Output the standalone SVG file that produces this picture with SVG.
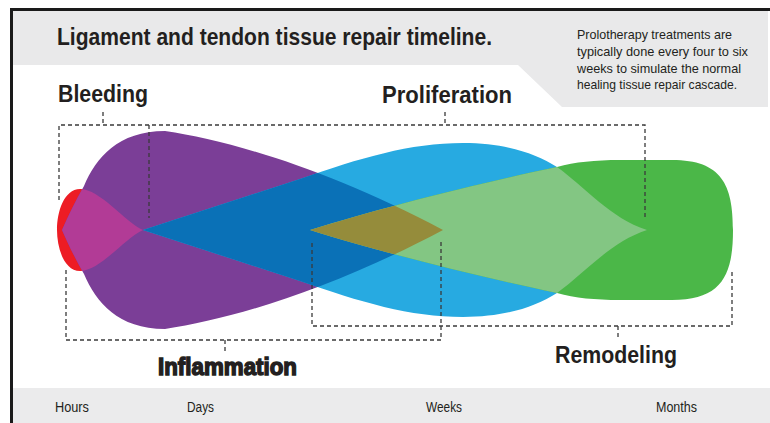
<svg xmlns="http://www.w3.org/2000/svg" width="770" height="423" viewBox="0 0 770 423">
<style>
.t{font-family:"Liberation Sans",Arial,sans-serif;fill:#231f20}
.b{font-weight:bold}
.d{fill:none;stroke:#3a3a3a;stroke-width:1.3;stroke-dasharray:4 3}
</style>
<defs>
<path id="red" d="M143,230 C125,222 100,189 80,189 C64,189 57,212 57,230 C57,248 64,271 80,271 C100,271 125,238 143,230 Z"/>
<path id="purple" d="M62,230 C68,216 76,200 84,186 C96,158 118,131 165,131 C232,141 330,170 443,230 C330,290 232,319 165,329 C118,329 96,302 84,274 C76,260 68,244 62,230 Z"/>
<path id="blue" d="M143,230 L300,179 C360,158 410,143 463,143 C505,143 535,153 557,167 C585,187 610,218 647,230 C610,242 585,273 557,293 C535,307 505,317 463,317 C410,317 360,302 300,281 Z"/>
<path id="green" d="M310,230 C380,208 480,183 557,167 C575,162 595,160 620,160 L672,160 C722,160 733,185 733,230 C733,275 722,300 672,300 L620,300 C595,300 575,298 557,293 C480,277 380,252 310,230 Z"/>
<clipPath id="cPurple"><use href="#purple"/></clipPath>
<clipPath id="cBlue"><use href="#blue"/></clipPath>
</defs>

<g id="frame">
<path d="M13,11 H768 V107 H562 L518,65 H13 Z" fill="#e9e9ea"/>
<rect x="13" y="388" width="757" height="35" fill="#ebebec"/>
<rect x="10" y="8" width="760" height="3" fill="#1a1a1a"/>
<rect x="10" y="8" width="3" height="415" fill="#1a1a1a"/>
</g>

<g id="title">
<text class="t b" x="57" y="45" font-size="24" textLength="435" lengthAdjust="spacingAndGlyphs">Ligament and tendon tissue repair timeline.</text>
</g>

<g id="note" class="t" font-size="13">
<text x="577" y="39" textLength="155" lengthAdjust="spacingAndGlyphs">Prolotherapy treatments are</text>
<text x="577" y="56" textLength="171" lengthAdjust="spacingAndGlyphs">typically done every four to six</text>
<text x="577" y="72.5" textLength="164" lengthAdjust="spacingAndGlyphs">weeks to simulate the normal</text>
<text x="577" y="89" textLength="160" lengthAdjust="spacingAndGlyphs">healing tissue repair cascade.</text>
</g>

<g id="shapes">
<use href="#red" fill="#ed1c24"/>
<use href="#purple" fill="#7b3e97"/>
<use href="#blue" fill="#27aae1"/>
<use href="#green" fill="#4bb748"/>
<use href="#red" fill="#b23b96" clip-path="url(#cPurple)"/>
<use href="#blue" fill="#0a71b7" clip-path="url(#cPurple)"/>
<use href="#green" fill="#83c683" clip-path="url(#cBlue)"/>
<use href="#green" fill="#958c3b" clip-path="url(#cPurple)"/>
</g>

<g id="connectors">
<path class="d" d="M59,200 V125 H645 V218"/>
<path class="d" d="M103,112 V125"/>
<path class="d" d="M445,112 V125"/>
<path class="d" d="M149,125 V218"/>
<path class="d" d="M66,270 V340 H441 V242"/>
<path class="d" d="M225,340 V353"/>
<path class="d" d="M312,243 V326 H732 V272"/>
<path class="d" d="M618,326 V339"/>
</g>

<g id="bleeding"><text class="t b" x="58" y="102" font-size="24" textLength="90" lengthAdjust="spacingAndGlyphs">Bleeding</text></g>
<g id="proliferation"><text class="t b" x="382" y="103" font-size="24" textLength="130" lengthAdjust="spacingAndGlyphs">Proliferation</text></g>
<g id="inflammation"><text class="t" x="158" y="375" font-size="23" font-weight="900" stroke="#231f20" stroke-width="1.4" textLength="139" lengthAdjust="spacingAndGlyphs">Inflammation</text></g>
<g id="remodeling"><text class="t b" x="555" y="363" font-size="23" textLength="122" lengthAdjust="spacingAndGlyphs">Remodeling</text></g>

<g id="axis" class="t" font-size="14">
<text x="55" y="412" textLength="34" lengthAdjust="spacingAndGlyphs">Hours</text>
<text x="187" y="412" textLength="27" lengthAdjust="spacingAndGlyphs">Days</text>
<text x="426" y="412" textLength="36" lengthAdjust="spacingAndGlyphs">Weeks</text>
<text x="656" y="412" textLength="41" lengthAdjust="spacingAndGlyphs">Months</text>
</g>
</svg>
